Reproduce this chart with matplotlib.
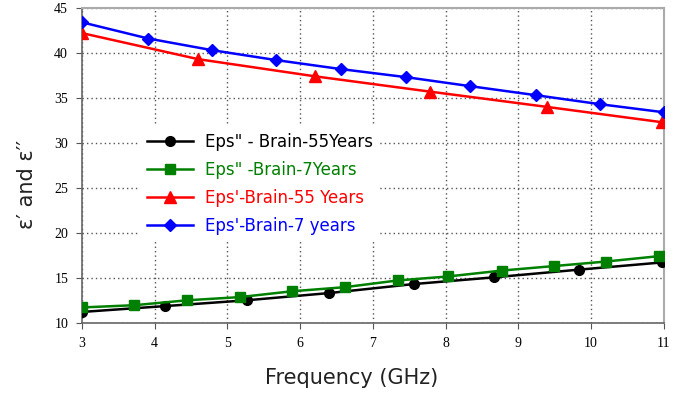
import numpy as np
import matplotlib
matplotlib.use("Agg")
import matplotlib.pyplot as plt

# permittivity data (real part eps', imaginary part eps'') vs frequency
f_eps2_55 = [3.0, 4.14, 5.27, 6.40, 7.56, 8.67, 9.83, 10.97]
eps2_55 = [11.2, 11.85, 12.5, 13.3, 14.3, 15.05, 15.9, 16.7]

f_eps2_7 = [3.0, 3.72, 4.45, 5.17, 5.89, 6.61, 7.34, 8.04, 8.77, 9.49, 10.2, 10.93]
eps2_7 = [11.7, 11.95, 12.5, 12.85, 13.5, 13.95, 14.7, 15.15, 15.8, 16.3, 16.8, 17.4]

f_eps1_55 = [3.0, 4.6, 6.2, 7.78, 9.39, 10.97]
eps1_55 = [42.2, 39.3, 37.4, 35.7, 34.0, 32.3]

f_eps1_7 = [3.0, 3.91, 4.79, 5.67, 6.56, 7.46, 8.34, 9.24, 10.12, 11.0]
eps1_7 = [43.4, 41.6, 40.3, 39.2, 38.2, 37.3, 36.3, 35.3, 34.3, 33.4]

labels = ["Eps\" - Brain-55Years", "Eps\" -Brain-7Years",
          "Eps'-Brain-55 Years", "Eps'-Brain-7 years"]
colors = ["black", "#008000", "red", "blue"]

fig = plt.figure(figsize=(6.95, 3.96), dpi=100)
ax = fig.add_axes([0.118, 0.185, 0.837, 0.795])

ax.plot(f_eps2_55, eps2_55, "-o", color=colors[0], lw=1.8, ms=7, label=labels[0], zorder=3)
ax.plot(f_eps2_7, eps2_7, "-s", color=colors[1], lw=1.8, ms=7.5, label=labels[1], zorder=3)
ax.plot(f_eps1_55, eps1_55, "-^", color=colors[2], lw=1.8, ms=8, label=labels[2], zorder=3)
ax.plot(f_eps1_7, eps1_7, "-D", color=colors[3], lw=1.8, ms=6.5, label=labels[3], zorder=3)

ax.set_xlim(3, 11)
ax.set_ylim(10, 45)
ax.set_xticks(np.arange(3, 12, 1))
ax.set_yticks(np.arange(10, 46, 5))
ax.grid(True, linestyle=(0, (1, 2.2)), color="#555555", lw=1.0)

for lab in ax.get_xticklabels() + ax.get_yticklabels():
    lab.set_fontfamily("Liberation Serif")
    lab.set_fontsize(10)
ax.tick_params(direction="out", length=4, color="#555555", pad=6)

for s in ["top", "right"]:
    ax.spines[s].set_color("#aaaaaa")
    ax.spines[s].set_linewidth(1.5)
for s in ["left", "bottom"]:
    ax.spines[s].set_color("#666666")
    ax.spines[s].set_linewidth(1.2)

ax.set_xlabel("Frequency (GHz)", fontsize=15, color="#222222")
ax.xaxis.set_label_coords(0.464, -0.145)
ax.set_ylabel("ε′ and ε′′", fontsize=15, color="#222222")
ax.yaxis.set_label_coords(-0.078, 0.44)

leg = ax.legend(loc="center left", bbox_to_anchor=(0.098, 0.442), frameon=True,
                fontsize=12, handlelength=2.8, labelspacing=0.6,
                borderpad=0.45, handletextpad=0.7, borderaxespad=0)
leg.get_frame().set_edgecolor("none")
leg.get_frame().set_facecolor("white")
leg.get_frame().set_alpha(1.0)
for txt, c in zip(leg.get_texts(), colors):
    txt.set_color(c)

fig.savefig("out.png", dpi=100)
